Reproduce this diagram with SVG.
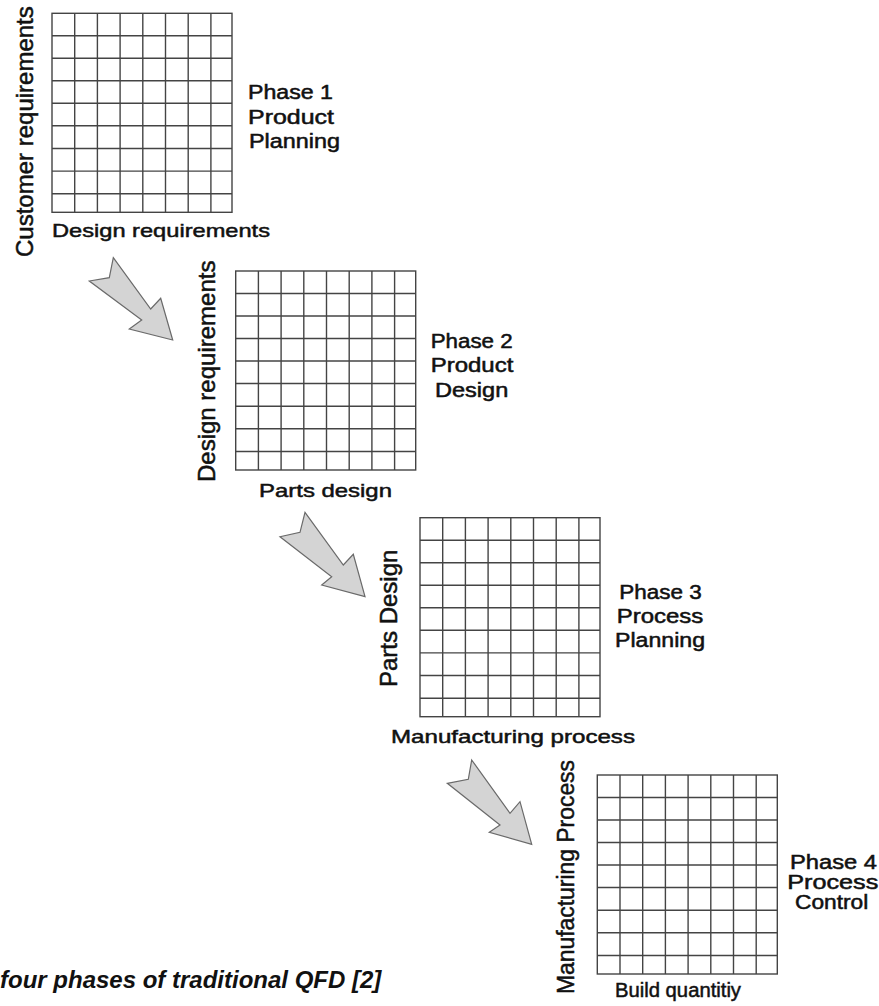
<svg xmlns="http://www.w3.org/2000/svg" xmlns:xlink="http://www.w3.org/1999/xlink" width="879" height="1006" viewBox="0 0 879 1006">
<style>
.bg{fill:#ffffff}
.grid rect{fill:#ffffff;stroke:#444;stroke-width:1.4}
.grid line{stroke:#444;stroke-width:1.4}
.t{font-family:"Liberation Sans",Arial,sans-serif;fill:#111;stroke:#111;stroke-width:0.5}
.h{font-size:19px}
.v{font-size:24px}
.ph{font-size:19.5px}
.cap{font-size:24px;font-weight:bold;font-style:italic;stroke:none}
.arrow{fill:#d4d4d4;stroke:#6a6a6a;stroke-width:1.2;stroke-linejoin:miter}
</style>
<defs>
<g id="gridTpl" class="grid">
<rect x="0" y="0" width="180" height="199"/>
<line x1="22.7" y1="0" x2="22.7" y2="199"/>
<line x1="45.4" y1="0" x2="45.4" y2="199"/>
<line x1="68.1" y1="0" x2="68.1" y2="199"/>
<line x1="90.8" y1="0" x2="90.8" y2="199"/>
<line x1="113.5" y1="0" x2="113.5" y2="199"/>
<line x1="136.2" y1="0" x2="136.2" y2="199"/>
<line x1="158.9" y1="0" x2="158.9" y2="199"/>
<line x1="0" y1="22.5" x2="180" y2="22.5"/>
<line x1="0" y1="45" x2="180" y2="45"/>
<line x1="0" y1="67.5" x2="180" y2="67.5"/>
<line x1="0" y1="90" x2="180" y2="90"/>
<line x1="0" y1="112.5" x2="180" y2="112.5"/>
<line x1="0" y1="135.2" x2="180" y2="135.2"/>
<line x1="0" y1="157.8" x2="180" y2="157.8"/>
<line x1="0" y1="180.5" x2="180" y2="180.5"/>
</g>
</defs>
<rect class="bg" x="0" y="0" width="879" height="1006"/>

<g id="phase1">
<use xlink:href="#gridTpl" href="#gridTpl" transform="translate(52,13.3)"/>
<text class="t v" transform="translate(33,257) rotate(-90)">Customer requirements</text>
<text class="t h" x="52" y="237" textLength="218" lengthAdjust="spacingAndGlyphs">Design requirements</text>
<text class="t ph" x="248" y="99" textLength="85" lengthAdjust="spacingAndGlyphs">Phase 1</text>
<text class="t ph" x="248" y="124" textLength="86" lengthAdjust="spacingAndGlyphs">Product</text>
<text class="t ph" x="249" y="148" textLength="91" lengthAdjust="spacingAndGlyphs">Planning</text>
</g>

<g id="phase2">
<use xlink:href="#gridTpl" href="#gridTpl" transform="translate(235.7,271)"/>
<text class="t v" transform="translate(215,482) rotate(-90)">Design requirements</text>
<text class="t h" x="259" y="497" textLength="133" lengthAdjust="spacingAndGlyphs">Parts design</text>
<text class="t ph" x="430.7" y="348.3" textLength="82" lengthAdjust="spacingAndGlyphs">Phase 2</text>
<text class="t ph" x="430.7" y="371.7" textLength="82.6" lengthAdjust="spacingAndGlyphs">Product</text>
<text class="t ph" x="435" y="396.7" textLength="73.3" lengthAdjust="spacingAndGlyphs">Design</text>
</g>

<g id="phase3">
<use xlink:href="#gridTpl" href="#gridTpl" transform="translate(420,517.7)"/>
<text class="t v" transform="translate(397,687) rotate(-90)">Parts Design</text>
<text class="t h" x="391" y="743" textLength="244" lengthAdjust="spacingAndGlyphs">Manufacturing process</text>
<text class="t ph" x="619.3" y="599.3" textLength="82.4" lengthAdjust="spacingAndGlyphs">Phase 3</text>
<text class="t ph" x="616.7" y="622.7" textLength="86.6" lengthAdjust="spacingAndGlyphs">Process</text>
<text class="t ph" x="615" y="646.7" textLength="90" lengthAdjust="spacingAndGlyphs">Planning</text>
</g>

<g id="phase4">
<use xlink:href="#gridTpl" href="#gridTpl" transform="translate(597.3,775)"/>
<text class="t" style="font-size:23px" transform="translate(574,994) rotate(-90)" textLength="234" lengthAdjust="spacingAndGlyphs">Manufacturing Process</text>
<text class="t" style="font-size:20px" x="615" y="997" textLength="126" lengthAdjust="spacingAndGlyphs">Build quantitiy</text>
<text class="t ph" x="790" y="869" textLength="87" lengthAdjust="spacingAndGlyphs">Phase 4</text>
<text class="t ph" x="787.3" y="889" textLength="91" lengthAdjust="spacingAndGlyphs">Process</text>
<text class="t ph" x="795" y="909" textLength="73.3" lengthAdjust="spacingAndGlyphs">Control</text>
</g>

<g id="connectors">
<polygon class="arrow" points="113.3,257.7 150.7,309 160.7,298.3 172.7,340 129.3,329 141.7,320 89.3,281 109.3,277.7"/>
<polygon class="arrow" points="305,512.3 343.3,565 353.3,554.3 365,596.7 321.7,585 331.7,576.7 280,536.7 300,532.3"/>
<polygon class="arrow" points="471.7,760 510,813.3 520,801.7 531.7,844.3 489.3,832.3 500,825 447.3,783.3 468.3,779.3"/>
</g>

<g id="caption">
<text class="t cap" x="0" y="988">four phases of traditional QFD [2]</text>
</g>
</svg>
